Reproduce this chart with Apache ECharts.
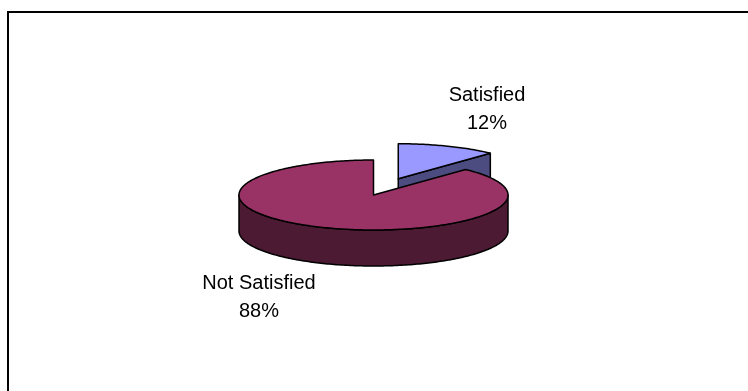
<!DOCTYPE html>
<html>
<head>
<meta charset="utf-8">
<script src="https://cdn.jsdelivr.net/npm/echarts@6/dist/echarts.min.js"></script>
<style>
  html, body { margin: 0; padding: 0; background: #fff; }
  #chart { width: 748px; height: 391px; }
</style>
</head>
<body>
<div id="chart"></div>
<script>
// Survey result: satisfied vs not satisfied
const categories = ['Satisfied', 'Not Satisfied'];
const values = [12, 88];

// Styling per slice
const topColors = ['#9999FF', '#993366'];
const sideColors = ['#4C4C80', '#4C1A33'];
const explodeBy = [0.5, 0];            // fraction of radius
const labelCenters = [[487, 109], [259, 297]];

// 3D pie geometry (tilted ellipse with extruded wall)
const PIE = { cx: 373.5, cy: 195, rx: 134.5, ry: 35, depth: 36, startAngle: 90 };
const total = values.reduce((a, b) => a + b, 0);
const DEG = Math.PI / 180;

function rim(c, a, dz) {
  return [c[0] + PIE.rx * Math.cos(a * DEG), c[1] - PIE.ry * Math.sin(a * DEG) + dz];
}
function arc(c, from, to, dz) {
  const pts = [];
  const n = Math.max(2, Math.ceil(Math.abs(to - from)));
  for (let k = 0; k <= n; k++) pts.push(rim(c, from + (to - from) * k / n, dz));
  return pts;
}

const lineStyle = { stroke: '#000', lineWidth: 1.5, lineJoin: 'round' };

function renderSlice(params, api) {
  const i = params.dataIndex;
  const v = api.value(0);
  let before = 0;
  for (let j = 0; j < i; j++) before += values[j];
  const a0 = PIE.startAngle - before / total * 360;   // clockwise sweep
  const a1 = a0 - v / total * 360;
  const mid = (a0 + a1) / 2;
  const e = explodeBy[i];
  const c = [PIE.cx + e * PIE.rx * Math.cos(mid * DEG), PIE.cy - e * PIE.ry * Math.sin(mid * DEG)];
  const cb = [c[0], c[1] + PIE.depth];
  const children = [];
  const side = Object.assign({ fill: sideColors[i] }, lineStyle);

  // radial cut faces turned towards the viewer
  if (Math.cos(a0 * DEG) < -1e-6) {
    children.push({ type: 'polygon', shape: { points: [c, rim(c, a0, 0), rim(c, a0, PIE.depth), cb] }, style: side });
  }
  if (Math.cos(a1 * DEG) > 1e-6) {
    children.push({ type: 'polygon', shape: { points: [c, rim(c, a1, 0), rim(c, a1, PIE.depth), cb] }, style: side });
  }
  // outer wall on the front half of the ellipse
  for (let k = -2; k <= 2; k++) {
    const lo = Math.max(a1, k * 360 - 180);
    const hi = Math.min(a0, k * 360);
    if (hi > lo) {
      const pts = arc(c, hi, lo, 0).concat(arc(c, lo, hi, PIE.depth));
      children.push({ type: 'polygon', shape: { points: pts }, style: side });
    }
  }
  // top face
  const topPts = [c].concat(arc(c, a0, a1, 0));
  children.push({ type: 'polygon', shape: { points: topPts }, style: Object.assign({ fill: topColors[i] }, lineStyle) });

  // data label
  const pct = Math.round(v / total * 100);
  children.push({
    type: 'text',
    style: {
      text: categories[i] + '\n' + pct + '%',
      x: labelCenters[i][0], y: labelCenters[i][1],
      align: 'center', verticalAlign: 'middle',
      fontFamily: '"Liberation Sans", Arial, sans-serif', fontSize: 20, lineHeight: 28,
      fill: '#000'
    }
  });
  return { type: 'group', children: children };
}

const chart = echarts.init(document.getElementById('chart'), null, { renderer: 'canvas' });
chart.setOption({
  animation: false,
  backgroundColor: '#fff',
  graphic: [{
    type: 'rect', z: -10,
    shape: { x: 8, y: 12, width: 800, height: 500 },
    style: { fill: 'none', stroke: '#000', lineWidth: 2 }
  }],
  series: [{
    type: 'custom',
    coordinateSystem: 'none',
    renderItem: renderSlice,
    data: values.map((v, i) => ({ name: categories[i], value: [v] }))
  }]
});
</script>
</body>
</html>
